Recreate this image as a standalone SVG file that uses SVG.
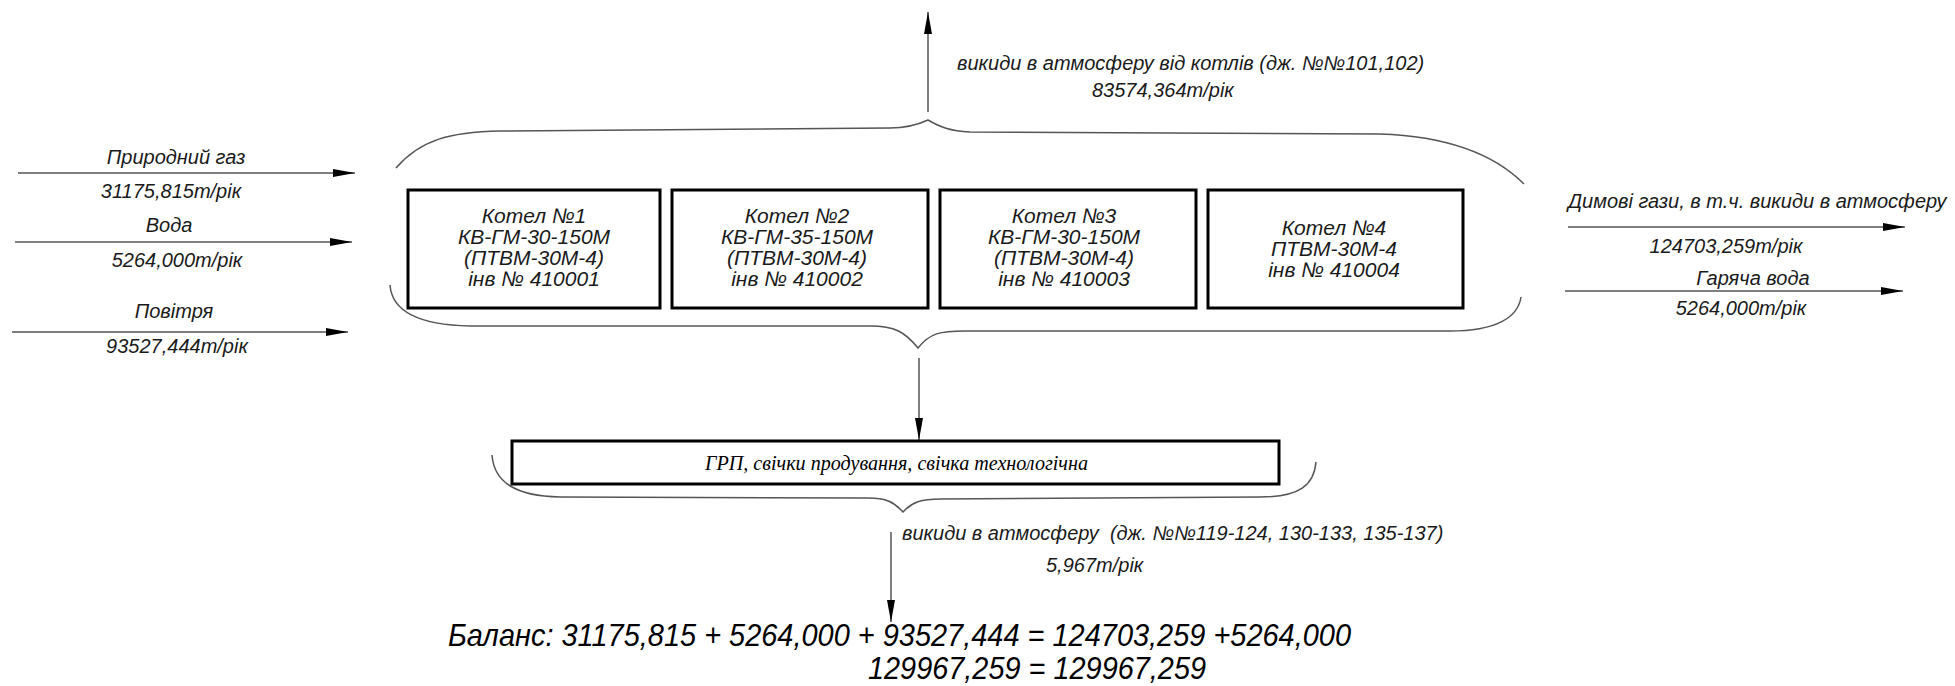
<svg xmlns="http://www.w3.org/2000/svg" width="1955" height="686" viewBox="0 0 1955 686">
<defs>
<marker id="ah" viewBox="0 0 22 8" refX="22" refY="4" markerWidth="22" markerHeight="8" markerUnits="userSpaceOnUse" orient="auto">
<path d="M0,0 L22,4 L0,8 Z" fill="#000"/>
</marker>
<style>
.t{font-family:"Liberation Sans",Arial,sans-serif;font-style:italic;font-size:20px;fill:#1a1a1a}
.bx{font-size:21px}
.m{text-anchor:middle}
.box{fill:#fff;stroke:#000;stroke-width:3}
.ln{stroke:#555;stroke-width:1.5;fill:none}
.br{stroke:#555;stroke-width:1.5;fill:none}
.bal{font-family:"Liberation Sans Narrow","Liberation Sans",sans-serif;font-style:italic;font-size:32px;fill:#000}
.grp{font-family:"Liberation Serif","Times New Roman",serif;font-style:italic;font-size:21px;fill:#000}
</style>
</defs>
<rect width="1955" height="686" fill="#fff"/>

<g id="connectors">
<line class="ln" x1="18" y1="173" x2="355" y2="173" marker-end="url(#ah)"/>
<line class="ln" x1="15" y1="242" x2="352" y2="242" marker-end="url(#ah)"/>
<line class="ln" x1="12" y1="332" x2="348" y2="332" marker-end="url(#ah)"/>
<line class="ln" x1="1568" y1="227" x2="1905" y2="227" marker-end="url(#ah)"/>
<line class="ln" x1="1565" y1="291" x2="1903" y2="291" marker-end="url(#ah)"/>
<line class="ln" x1="928" y1="112" x2="928" y2="12" marker-end="url(#ah)"/>
<line class="ln" x1="919" y1="358" x2="919" y2="440" marker-end="url(#ah)"/>
<line class="ln" x1="891" y1="532" x2="891" y2="622" marker-end="url(#ah)"/>
<path class="br" d="M396,168 C420,140 450,132 500,131 L890,128 C905,128 915,126 928,120 C940,127 950,131 970,132 L1380,134 C1440,136 1490,150 1524,184"/>
<path class="br" d="M390,285 C392,312 420,325 470,326 L870,326 C895,326 905,332 918,348 C930,333 940,331 965,331 L1450,331 C1495,331 1518,318 1521,297"/>
<path class="br" d="M492,455 C494,482 515,496 560,497 L868,498 C886,498 894,502 903,512 C912,502 921,499 941,499 L1260,497 C1300,497 1314,485 1316,462"/>
</g>

<g id="input-labels">
<text class="t m" x="176" y="164">Природний газ</text>
<text class="t m" x="171" y="198">31175,815т/рік</text>
<text class="t m" x="169" y="232">Вода</text>
<text class="t m" x="177" y="267">5264,000т/рік</text>
<text class="t m" x="174" y="318">Повітря</text>
<text class="t m" x="177" y="353">93527,444т/рік</text>
</g>

<g id="output-labels">
<text class="t" x="1568" y="208">Димові гази, в т.ч. викиди в атмосферу</text>
<text class="t m" x="1726" y="253">124703,259т/рік</text>
<text class="t m" x="1753" y="285">Гаряча вода</text>
<text class="t m" x="1741" y="315">5264,000т/рік</text>
<text class="t" x="957" y="70">викиди в атмосферу від котлів (дж. №№101,102)</text>
<text class="t" x="1092" y="97">83574,364т/рік</text>
<text class="t" x="902" y="540" style="white-space:pre">викиди в атмосферу  (дж. №№119-124, 130-133, 135-137)</text>
<text class="t" x="1046" y="572">5,967т/рік</text>
</g>

<g id="boiler1">
<rect class="box" x="408" y="190" width="252" height="118"/>
<text class="t bx m" x="534" y="223">Котел №1</text>
<text class="t bx m" x="534" y="244">КВ-ГМ-30-150М</text>
<text class="t bx m" x="534" y="265">(ПТВМ-30М-4)</text>
<text class="t bx m" x="534" y="286">інв № 410001</text>
</g>
<g id="boiler2">
<rect class="box" x="672" y="190" width="256" height="118"/>
<text class="t bx m" x="797" y="223">Котел №2</text>
<text class="t bx m" x="797" y="244">КВ-ГМ-35-150М</text>
<text class="t bx m" x="797" y="265">(ПТВМ-30М-4)</text>
<text class="t bx m" x="797" y="286">інв № 410002</text>
</g>
<g id="boiler3">
<rect class="box" x="940" y="190" width="256" height="118"/>
<text class="t bx m" x="1064" y="223">Котел №3</text>
<text class="t bx m" x="1064" y="244">КВ-ГМ-30-150М</text>
<text class="t bx m" x="1064" y="265">(ПТВМ-30М-4)</text>
<text class="t bx m" x="1064" y="286">інв № 410003</text>
</g>
<g id="boiler4">
<rect class="box" x="1208" y="190" width="255" height="118"/>
<text class="t bx m" x="1334" y="235">Котел №4</text>
<text class="t bx m" x="1334" y="256">ПТВМ-30М-4</text>
<text class="t bx m" x="1334" y="277">інв № 410004</text>
</g>
<g id="grp">
<rect class="box" x="512" y="441" width="767" height="43"/>
<text class="grp" x="705" y="470" textLength="383" lengthAdjust="spacingAndGlyphs">ГРП, свічки продування, свічка технологічна</text>
</g>

<g id="balance">
<text class="bal" x="448" y="646" textLength="903" lengthAdjust="spacingAndGlyphs">Баланс: 31175,815 + 5264,000 + 93527,444 = 124703,259 +5264,000</text>
<text class="bal" x="868" y="679" textLength="338" lengthAdjust="spacingAndGlyphs">129967,259 = 129967,259</text>
</g>
</svg>
